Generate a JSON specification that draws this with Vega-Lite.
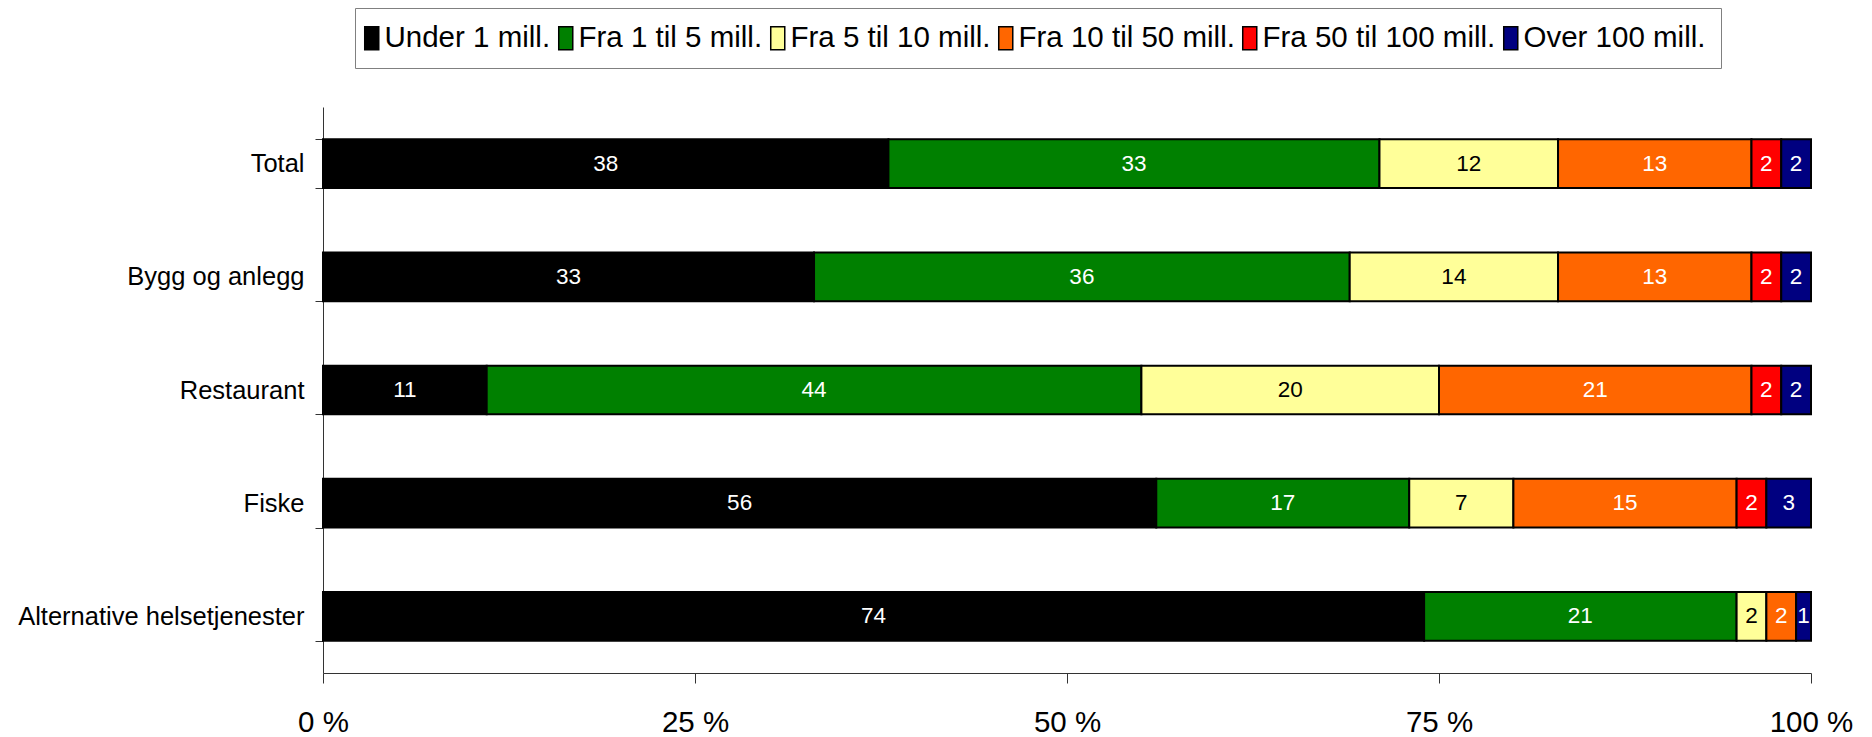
{
  "$schema": "https://vega.github.io/schema/vega-lite/v6.json",
  "width": 1488,
  "height": 566,
  "autosize": {"type": "none"},
  "padding": {"left": 323, "top": 107, "right": 61, "bottom": 64},
  "background": "white",
  "config": {"view": {"stroke": null}, "font": "Liberation Sans"},
  "data": {
    "values": [
      {"cat": "Total", "seg": "Under 1 mill.", "k": 1, "value": 38},
      {"cat": "Total", "seg": "Fra 1 til 5 mill.", "k": 2, "value": 33},
      {"cat": "Total", "seg": "Fra 5 til 10 mill.", "k": 3, "value": 12},
      {"cat": "Total", "seg": "Fra 10 til 50 mill.", "k": 4, "value": 13},
      {"cat": "Total", "seg": "Fra 50 til 100 mill.", "k": 5, "value": 2},
      {"cat": "Total", "seg": "Over 100 mill.", "k": 6, "value": 2},
      {"cat": "Bygg og anlegg", "seg": "Under 1 mill.", "k": 1, "value": 33},
      {"cat": "Bygg og anlegg", "seg": "Fra 1 til 5 mill.", "k": 2, "value": 36},
      {"cat": "Bygg og anlegg", "seg": "Fra 5 til 10 mill.", "k": 3, "value": 14},
      {"cat": "Bygg og anlegg", "seg": "Fra 10 til 50 mill.", "k": 4, "value": 13},
      {"cat": "Bygg og anlegg", "seg": "Fra 50 til 100 mill.", "k": 5, "value": 2},
      {"cat": "Bygg og anlegg", "seg": "Over 100 mill.", "k": 6, "value": 2},
      {"cat": "Restaurant", "seg": "Under 1 mill.", "k": 1, "value": 11},
      {"cat": "Restaurant", "seg": "Fra 1 til 5 mill.", "k": 2, "value": 44},
      {"cat": "Restaurant", "seg": "Fra 5 til 10 mill.", "k": 3, "value": 20},
      {"cat": "Restaurant", "seg": "Fra 10 til 50 mill.", "k": 4, "value": 21},
      {"cat": "Restaurant", "seg": "Fra 50 til 100 mill.", "k": 5, "value": 2},
      {"cat": "Restaurant", "seg": "Over 100 mill.", "k": 6, "value": 2},
      {"cat": "Fiske", "seg": "Under 1 mill.", "k": 1, "value": 56},
      {"cat": "Fiske", "seg": "Fra 1 til 5 mill.", "k": 2, "value": 17},
      {"cat": "Fiske", "seg": "Fra 5 til 10 mill.", "k": 3, "value": 7},
      {"cat": "Fiske", "seg": "Fra 10 til 50 mill.", "k": 4, "value": 15},
      {"cat": "Fiske", "seg": "Fra 50 til 100 mill.", "k": 5, "value": 2},
      {"cat": "Fiske", "seg": "Over 100 mill.", "k": 6, "value": 3},
      {"cat": "Alternative helsetjenester", "seg": "Under 1 mill.", "k": 1, "value": 74},
      {"cat": "Alternative helsetjenester", "seg": "Fra 1 til 5 mill.", "k": 2, "value": 21},
      {"cat": "Alternative helsetjenester", "seg": "Fra 5 til 10 mill.", "k": 3, "value": 2},
      {"cat": "Alternative helsetjenester", "seg": "Fra 10 til 50 mill.", "k": 4, "value": 2},
      {"cat": "Alternative helsetjenester", "seg": "Over 100 mill.", "k": 6, "value": 1}
    ]
  },
  "encoding": {
    "y": {
      "field": "cat",
      "type": "nominal",
      "sort": ["Total", "Bygg og anlegg", "Restaurant", "Fiske", "Alternative helsetjenester"],
      "scale": {"paddingInner": 0.57, "paddingOuter": 0.285},
      "axis": {
        "title": null,
        "tickBand": "extent",
        "tickSize": 8,
        "tickColor": "#333333",
        "domainColor": "#333333",
        "labelFont": "Liberation Sans",
        "labelFontSize": 25.5,
        "labelColor": "black",
        "labelPadding": 11,
        "labelLimit": 400
      }
    }
  },
  "layer": [
    {
      "mark": {"type": "bar", "stroke": "black", "strokeWidth": 2},
      "encoding": {
        "x": {
          "field": "value",
          "type": "quantitative",
          "stack": "zero",
          "scale": {"domain": [0, 100], "nice": false},
          "axis": {
            "title": null,
            "grid": false,
            "values": [0, 25, 50, 75, 100],
            "labelExpr": "datum.value + ' %'",
            "tickSize": 10,
            "tickColor": "#333333",
            "domainColor": "#333333",
            "labelFontSize": 29.5,
            "labelColor": "black",
            "labelPadding": 25,
            "labelFlush": false
          }
        },
        "color": {
          "field": "seg",
          "type": "nominal",
          "sort": ["Under 1 mill.", "Fra 1 til 5 mill.", "Fra 5 til 10 mill.", "Fra 10 til 50 mill.", "Fra 50 til 100 mill.", "Over 100 mill."],
          "scale": {
            "domain": ["Under 1 mill.", "Fra 1 til 5 mill.", "Fra 5 til 10 mill.", "Fra 10 til 50 mill.", "Fra 50 til 100 mill.", "Over 100 mill."],
            "range": ["#000000", "#008000", "#FFFF99", "#FF6600", "#FF0000", "#000080"]
          },
          "legend": {
            "orient": "none",
            "legendX": 32,
            "legendY": -99,
            "direction": "horizontal",
            "columns": 6,
            "title": null,
            "strokeColor": "#808080",
            "fillColor": "white",
            "padding": 15,
            "labelFontSize": 29.5,
            "labelColor": "black",
            "labelLimit": 400,
            "labelOffset": -2,
            "symbolOffset": -13,
            "columnPadding": 4,
            "symbolType": "M-0.61,-1H0.61V1H-0.61Z",
            "symbolSize": 529,
            "symbolStrokeColor": "black",
            "symbolStrokeWidth": 1.5,
            "symbolOpacity": 1
          }
        },
        "order": {"field": "k"}
      }
    },
    {
      "mark": {"type": "text", "fontSize": 22.5, "baseline": "middle", "align": "center"},
      "encoding": {
        "x": {"field": "value", "type": "quantitative", "stack": "zero", "bandPosition": 0.5},
        "detail": {"field": "seg"},
        "order": {"field": "k"},
        "text": {"field": "value", "type": "quantitative"},
        "color": {
          "condition": {"test": "datum.seg === 'Fra 5 til 10 mill.'", "value": "black"},
          "value": "white"
        }
      }
    }
  ]
}
